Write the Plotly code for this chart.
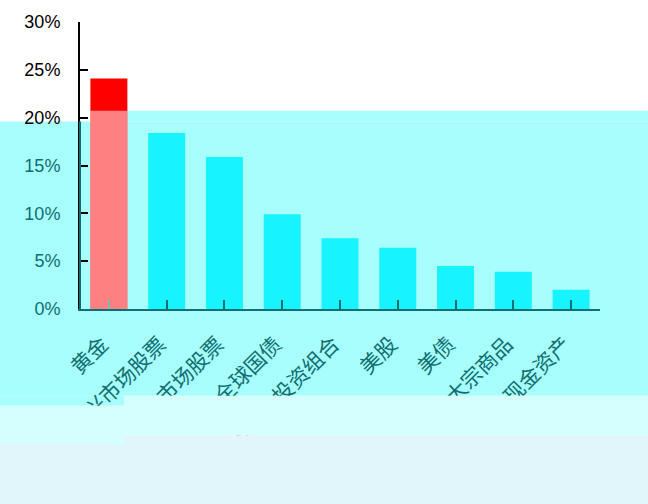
import plotly.graph_objects as go

categories = ["黄金", "新兴市场股票", "发达市场股票", "全球国债", "60/40投资组合",
              "美股", "美债", "大宗商品", "现金资产"]
values = [24.1, 18.4, 15.9, 9.9, 7.4, 6.4, 4.5, 3.9, 2.0]
y_tick_values = [0, 5, 10, 15, 20, 25, 30]
y_tick_labels = ["0%", "5%", "10%", "15%", "20%", "25%", "30%"]

TEAL = "#0e7070"
RED = "#ff0000"
CYAN_BAR = "#17f3ff"
BG_CYAN = "#a8fdfd"
BG_LIGHT = "#d5ffff"
BG_BOTTOM = "#e1f6fb"

W, H = 648, 504
L, R, T, B = 80, 48, 18, 195
PW, PH = W - L - R, H - T - B
BARGAP = 0.36


def fx(X):
    return (X - L) / PW


def fy(Y):
    return (H - B - Y) / PH


bar_colors = [RED] + [CYAN_BAR] * (len(categories) - 1)

fig = go.Figure(go.Bar(x=list(range(len(categories))), y=values,
                       marker=dict(color=bar_colors, line=dict(width=0)),
                       hoverinfo="skip"))


def rect(x0, y0, x1, y1, color, layer="below", xref="paper"):
    return dict(type="rect", xref=xref, yref="paper", x0=x0, x1=x1, y0=y0, y1=y1,
                fillcolor=color, line=dict(width=0), layer=layer)


shapes = [
    # tinted overlay bands of the reference
    rect(fx(0), fy(119), fx(W), fy(397), BG_CYAN),
    rect(fx(91), fy(108), fx(W), fy(119), BG_CYAN),
    rect(fx(0), fy(397), fx(124), fy(407), BG_CYAN),
    rect(fx(0), fy(437), fx(W), fy(H + 10), BG_BOTTOM, layer="above"),
    rect(fx(0), fy(447), fx(124), fy(437), BG_BOTTOM, layer="above"),
    rect(fx(124), fy(397), fx(W), fy(437), BG_LIGHT, layer="above"),
    rect(fx(0), fy(407), fx(124), fy(447), BG_LIGHT, layer="above"),
    # pale tint over lower part of first bar
    dict(type="rect", xref="x", yref="paper", x0=-(1 - BARGAP) / 2, x1=(1 - BARGAP) / 2,
         y0=0, y1=fy(108), fillcolor="rgba(255,255,255,0.5)", line=dict(width=0), layer="above"),
    # axis line recoloured within tinted area
    dict(type="line", xref="paper", yref="paper", x0=0, x1=0, y0=0, y1=fy(119),
         line=dict(color=TEAL, width=2), layer="above"),
]

y_text = []
for v, lab in zip(y_tick_values, y_tick_labels):
    c = "#000000" if v >= 20 else TEAL
    y_text.append(f'<span style="color:{c}">{lab}</span>')

x_text = [c + "\u00a0\u00a0" for c in categories]

fig.update_layout(
    width=W, height=H,
    margin=dict(l=L, r=R, t=T, b=B, pad=0),
    paper_bgcolor="#ffffff",
    plot_bgcolor="rgba(0,0,0,0)",
    showlegend=False,
    bargap=BARGAP,
    shapes=shapes,
    font=dict(family="Liberation Sans, Arial, sans-serif"),
    xaxis=dict(
        tickmode="array", tickvals=list(range(len(categories))), ticktext=x_text,
        range=[-0.5, len(categories) - 0.5],
        tickangle=-45, tickson="boundaries", ticks="inside", ticklen=9, tickwidth=2,
        tickcolor=TEAL, showline=True, linecolor=TEAL, linewidth=2, showgrid=False,
        zeroline=False, ticklabelstandoff=6,
        tickfont=dict(family="Noto Sans CJK SC", size=21, color=TEAL),
    ),
    yaxis=dict(
        range=[0, 30], tickmode="array", tickvals=y_tick_values, ticktext=y_text,
        ticks="inside", ticklen=8, tickwidth=2, tickcolor="#000000",
        showline=True, linecolor="#000000", linewidth=2, showgrid=False, zeroline=False,
        ticklabelstandoff=14,
        tickfont=dict(family="Liberation Sans, Arial, sans-serif", size=18, color="#000000"),
    ),
)

fig.write_html("out.html", config={"displayModeBar": False},
               post_script="document.body.style.margin='0';")
